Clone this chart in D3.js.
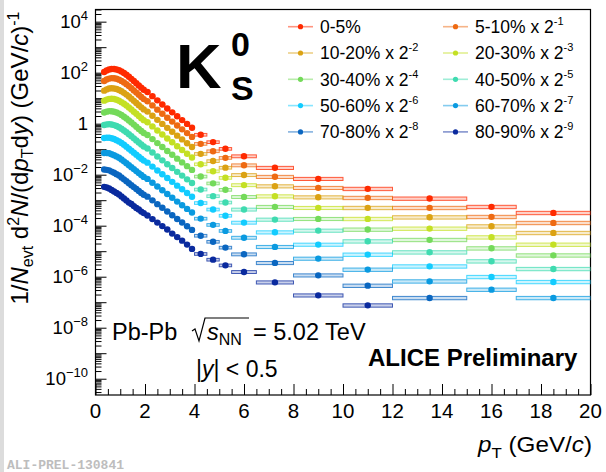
<!DOCTYPE html>
<html>
<head>
<meta charset="utf-8">
<script src="https://cdn.jsdelivr.net/npm/d3@7"></script>
<style>
  body { margin: 0; background: #fff; }
  svg { display: block; font-family: "Liberation Sans", Arial, Helvetica, sans-serif; }
</style>
</head>
<body>
<svg id="chart" width="606" height="472"></svg>
<script>
// K0S transverse-momentum spectra in Pb-Pb at 5.02 TeV, per centrality class

// pT bin edges (GeV/c)
const ptEdges = [0.3,0.4,0.5,0.6,0.7,0.8,0.9,1.0,1.1,1.2,1.3,1.4,1.5,1.6,1.7,1.8,1.9,2.0,
  2.2,2.4,2.6,2.8,3.0,3.2,3.4,3.6,3.8,4.0,4.5,5.0,5.5,6.5,8.0,10,12,15,17,20];

const centralityClasses = ["0-5%","5-10%","10-20%","20-30%","30-40%","40-50%","50-60%","60-70%","70-80%","80-90%"];
// each class is drawn multiplied by 2^exponent
const scaleExponents = [0,-1,-2,-3,-4,-5,-6,-7,-8,-9];
const seriesColors = ["#ff2a00","#ee6a12","#dba213","#c4e024","#74da5a","#3fdbb0","#12ccff","#0a9ae0","#0a66c0","#0a2a9e"];

// 1/Nevt d2N/(dpT dy), (GeV/c)^-1
const k0s_0_5   = [107,122,134,140,140,134,124,111,96.8,83.0,69.3,57.3,47.0,38.5,31.6,25.9,21.4,
  17.5,12.0,8.21,5.67,3.95,2.78,1.95,1.38,0.982,0.697,
  0.370,0.190,0.1035,0.0530,0.0186,0.00688,0.00279,0.00116,5.48e-4,3.18e-4];
const k0s_5_10  = [94.8,107.9,117.2,121.9,121.3,115.6,106.4,95.2,83.0,71.1,59.4,49.1,40.3,33.1,27.1,22.3,18.4,
  15.1,10.4,7.10,4.92,3.43,2.41,1.69,1.20,0.854,0.607,
  0.324,0.167,0.0914,0.0469,0.0165,0.00610,0.00247,0.00100,4.44e-4,2.58e-4];
const k0s_10_20 = [78.9,88.5,95.3,97.8,96.4,91.2,83.7,74.5,64.7,55.3,46.3,38.3,31.5,25.9,21.3,17.5,14.5,
  11.9,8.22,5.65,3.93,2.74,1.93,1.36,0.966,0.687,0.488,
  0.262,0.137,0.0754,0.0389,0.0141,0.00521,0.00200,8.55e-4,3.79e-4,2.09e-4];
const k0s_20_30 = [63.9,70.5,74.8,75.5,73.8,69.2,63.1,55.8,48.3,41.3,34.5,28.6,23.6,19.5,16.0,13.2,11.0,
  9.06,6.25,4.32,3.02,2.11,1.49,1.05,0.748,0.532,0.379,
  0.206,0.109,0.0604,0.0313,0.0114,0.00400,0.00148,6.17e-4,2.81e-4,1.45e-4];
const k0s_30_40 = [44.0,47.5,49.5,49.0,47.1,43.9,39.7,34.9,30.0,25.6,21.4,17.8,14.7,12.2,10.0,8.32,6.93,
  5.74,3.98,2.77,1.94,1.36,0.963,0.681,0.486,0.346,0.247,
  0.136,0.0731,0.0410,0.0215,0.00877,0.00296,0.00113,4.45e-4,2.08e-4,1.10e-4];
const k0s_40_50 = [28.4,30.0,30.7,29.7,28.1,25.9,23.3,20.3,17.3,14.8,12.3,10.3,8.53,7.08,5.87,4.88,4.08,
  3.39,2.37,1.65,1.17,0.823,0.582,0.413,0.295,0.210,0.151,
  0.0843,0.0461,0.0261,0.0138,0.00556,0.00206,7.83e-4,2.90e-4,1.29e-4,6.46e-5];
const k0s_50_60 = [17.6,18.1,18.1,17.1,16.0,14.5,12.9,11.2,9.51,8.05,6.73,5.62,4.69,3.91,3.25,2.71,2.28,
  1.90,1.33,0.937,0.667,0.472,0.335,0.238,0.171,0.122,0.0873,
  0.0498,0.0277,0.0158,0.00847,0.00353,0.00116,4.71e-4,1.63e-4,6.27e-5,3.99e-5];
const k0s_60_70 = [9.06,9.04,8.87,8.15,7.45,6.68,5.92,5.06,4.27,3.61,3.02,2.53,2.12,1.77,1.48,1.24,1.05,
  0.876,0.620,0.439,0.314,0.223,0.159,0.113,0.0815,0.0582,0.0419,
  0.0243,0.0138,0.00802,0.00434,0.00189,6.56e-4,2.43e-4,8.43e-5,3.98e-5,1.88e-5];
const k0s_70_80 = [4.08,3.96,3.79,3.39,3.04,2.69,2.37,2.00,1.68,1.41,1.18,0.992,0.834,0.702,0.589,0.495,0.420,
  0.353,0.252,0.179,0.129,0.0923,0.0659,0.0471,0.0340,0.0243,0.0175,
  0.0104,0.00603,0.00355,0.00194,8.89e-4,2.90e-4,1.14e-4,3.76e-5];
const k0s_80_90 = [1.71,1.60,1.47,1.28,1.12,0.975,0.851,0.711,0.593,0.495,0.413,0.361,0.301,0.252,0.220,0.183,0.160,
  0.128,0.0931,0.0678,0.0494,0.0361,0.0251,0.0183,0.0133,0.00929,0.00630,
  0.00401,0.00239,0.00143,7.87e-4,3.08e-4,9.51e-5,3.85e-5];

// relative systematic uncertainty per bin (box half-height)
const sysRel = [0.08,0.08,0.08,0.08,0.08,0.08,0.08,0.08,0.08,0.08,0.08,0.08,0.08,0.08,0.08,0.08,0.08,
  0.09,0.09,0.09,0.09,0.09,0.09,0.09,0.09,0.09,0.09,
  0.12,0.12,0.12,0.13,0.14,0.14,0.15,0.15,0.15,0.15];

const spectra = [k0s_0_5,k0s_5_10,k0s_10_20,k0s_20_30,k0s_30_40,k0s_40_50,k0s_50_60,k0s_60_70,k0s_70_80,k0s_80_90];

const yTickExponents = [-10,-8,-6,-4,-2,0,2,4];
const xTickValues = [0,2,4,6,8,10,12,14,16,18,20];

// ---------------------------------------------------------------
const svg = d3.select("#chart");
const frame = {left: 95.5, right: 590.5, top: 9.5, bottom: 395};

const x = d3.scaleLinear().domain([0, 20]).range([frame.left, frame.right]);
const y = d3.scaleLog().domain([2.3e-11, 3.0e4]).range([frame.bottom, frame.top]);

svg.append("rect").attr("x", 0).attr("y", 0).attr("width", 606).attr("height", 472).attr("fill", "#fff");
svg.append("rect").attr("x", 0).attr("y", 0).attr("width", 4).attr("height", 472).attr("fill", "#dcdcdc");

svg.append("defs").append("clipPath").attr("id", "plotClip")
  .append("rect")
  .attr("x", frame.left).attr("y", frame.top)
  .attr("width", frame.right - frame.left).attr("height", frame.bottom - frame.top);

// axis ticks, pointing into the frame
const minorX = d3.range(0, 20.01, 0.5).filter(v => Math.abs(v / 2 - Math.round(v / 2)) > 1e-6);
svg.append("g").attr("transform", `translate(0,${frame.bottom})`)
  .call(d3.axisBottom(x).tickValues(xTickValues).tickSize(-11).tickFormat(""))
  .call(g => g.select(".domain").remove());
svg.append("g").attr("transform", `translate(0,${frame.bottom})`)
  .call(d3.axisBottom(x).tickValues(minorX).tickSize(-6).tickFormat(""))
  .call(g => g.select(".domain").remove());

const decades = d3.range(-10, 5).map(e => Math.pow(10, e));
const minorY = [];
for (let e = -11; e <= 4; e++) for (let m = 2; m <= 9; m++) {
  const v = m * Math.pow(10, e);
  if (v >= y.domain()[0] && v <= y.domain()[1]) minorY.push(v);
}
svg.append("g").attr("transform", `translate(${frame.left},0)`)
  .call(d3.axisLeft(y).tickValues(decades).tickSize(-11).tickFormat(""))
  .call(g => g.select(".domain").remove());
svg.append("g").attr("transform", `translate(${frame.left},0)`)
  .call(d3.axisLeft(y).tickValues(minorY).tickSize(-6).tickFormat(""))
  .call(g => g.select(".domain").remove());
svg.selectAll(".tick line").attr("stroke", "#000").attr("stroke-width", 1);

// frame
svg.append("rect")
  .attr("x", frame.left).attr("y", frame.top)
  .attr("width", frame.right - frame.left).attr("height", frame.bottom - frame.top)
  .attr("fill", "none").attr("stroke", "#000").attr("stroke-width", 1.2);

// x tick labels
svg.append("g").selectAll("text").data(xTickValues).join("text")
  .attr("x", d => x(d)).attr("y", 418)
  .attr("text-anchor", "middle").attr("font-size", 20.5)
  .text(d => d);

// y tick labels (powers of ten)
const yLab = svg.append("g");
yTickExponents.forEach(e => {
  const t = yLab.append("text")
    .attr("x", 88).attr("y", y(Math.pow(10, e)) + 6.5)
    .attr("text-anchor", "end").attr("font-size", 18.5);
  if (e === 0) { t.text("1"); return; }
  t.append("tspan").text("10");
  t.append("tspan").attr("font-size", 13).attr("dy", -8)
    .text(e < 0 ? "\u2212" + (-e) : String(e));
});

// axis titles
const xt = svg.append("text").attr("x", 592).attr("y", 452)
  .attr("text-anchor", "end").attr("font-size", 21.5)
  .attr("textLength", 114).attr("lengthAdjust", "spacingAndGlyphs");
xt.append("tspan").attr("font-style", "italic").text("p");
xt.append("tspan").attr("font-size", 15).attr("dy", 6).text("T");
xt.append("tspan").attr("dy", -6).text(" (GeV/");
xt.append("tspan").attr("font-style", "italic").text("c");
xt.append("tspan").text(")");

const yt = svg.append("text")
  .attr("transform", "translate(28,158) rotate(-90)")
  .attr("text-anchor", "middle").attr("font-size", 24);
yt.append("tspan").text("1/");
yt.append("tspan").attr("font-style", "italic").text("N");
yt.append("tspan").attr("font-size", 16).attr("dy", 5).text("evt");
yt.append("tspan").attr("dy", -5).text(" d");
yt.append("tspan").attr("font-size", 16).attr("dy", -9).text("2");
yt.append("tspan").attr("dy", 9).attr("font-style", "italic").text("N");
yt.append("tspan").text("/(d");
yt.append("tspan").attr("font-style", "italic").text("p");
yt.append("tspan").attr("font-size", 16).attr("dy", 5).text("T");
yt.append("tspan").attr("dy", -5).text("d");
yt.append("tspan").attr("font-style", "italic").text("y");
yt.append("tspan").text(") (GeV/");
yt.append("tspan").attr("font-style", "italic").text("c");
yt.append("tspan").text(")");
yt.append("tspan").attr("font-size", 16).attr("dy", -9).text("-1");

// spectra: systematic boxes and markers
const plot = svg.append("g").attr("clip-path", "url(#plotClip)");
spectra.forEach((vals, k) => {
  const f = Math.pow(2, scaleExponents[k]);
  const col = seriesColors[k];
  const pts = vals.map((v, i) => ({
    lo: ptEdges[i], hi: ptEdges[i + 1],
    pt: (ptEdges[i] + ptEdges[i + 1]) / 2,
    v: v * f, s: sysRel[i]
  }));
  const g = plot.append("g");
  g.selectAll("rect").data(pts).join("rect")
    .attr("x", d => x(d.lo))
    .attr("width", d => x(d.hi) - x(d.lo))
    .attr("y", d => y(d.v * (1 + d.s)))
    .attr("height", d => y(d.v * (1 - d.s)) - y(d.v * (1 + d.s)))
    .attr("fill", col).attr("fill-opacity", 0.22)
    .attr("stroke", col).attr("stroke-opacity", 0.75).attr("stroke-width", 1);
  g.selectAll("circle").data(pts).join("circle")
    .attr("cx", d => x(d.pt)).attr("cy", d => y(d.v))
    .attr("r", 3.2).attr("fill", col);
});

// legend
const legend = svg.append("g");
centralityClasses.forEach((c, k) => {
  const col = k % 2, row = Math.floor(k / 2);
  const lx = col === 0 ? 288 : 443;
  const ly = 26.7 + row * 26.3;
  legend.append("line").attr("x1", lx).attr("x2", lx + 25).attr("y1", ly).attr("y2", ly)
    .attr("stroke", seriesColors[k]).attr("stroke-opacity", 0.5).attr("stroke-width", 1.6);
  legend.append("circle").attr("cx", lx + 12.5).attr("cy", ly).attr("r", 2.6).attr("fill", seriesColors[k]);
  const t = legend.append("text").attr("x", lx + 32).attr("y", ly + 6.2).attr("font-size", 17.5);
  if (scaleExponents[k] === 0) { t.text(c); return; }
  t.append("tspan").text(c + " x 2");
  t.append("tspan").attr("font-size", 11).attr("dy", -8).text(String(scaleExponents[k]));
});

// particle label
const kl = svg.append("g").attr("font-weight", "bold");
kl.append("text").attr("x", 176).attr("y", 88).attr("font-size", 63).text("K");
kl.append("text").attr("x", 231).attr("y", 56).attr("font-size", 34).text("0");
kl.append("text").attr("x", 231).attr("y", 100).attr("font-size", 34).text("S");

// collision system, with a drawn radical over s_NN
svg.append("text").attr("x", 112).attr("y", 340).attr("font-size", 23.5).text("Pb-Pb");
svg.append("path")
  .attr("d", "M192,331 L195,329 L199,341 L205,318 L249,318")
  .attr("fill", "none").attr("stroke", "#000").attr("stroke-width", 1.2);
const sNN = svg.append("text").attr("x", 207).attr("y", 340).attr("font-size", 23.5);
sNN.append("tspan").attr("font-style", "italic").text("s");
sNN.append("tspan").attr("font-size", 16).attr("dy", 5).text("NN");
svg.append("text").attr("x", 253).attr("y", 340).attr("font-size", 23.5).text("= 5.02 TeV");

const rap = svg.append("text").attr("x", 196).attr("y", 377).attr("font-size", 23);
rap.append("tspan").text("|");
rap.append("tspan").attr("font-style", "italic").text("y");
rap.append("tspan").text("| < 0.5");

svg.append("text").attr("x", 368).attr("y", 366).attr("font-size", 24)
  .attr("font-weight", "bold").text("ALICE Preliminary");

svg.append("text").attr("x", 7).attr("y", 469)
  .style("font-family", "'Liberation Mono', 'DejaVu Sans Mono', monospace")
  .attr("font-weight", "bold")
  .attr("font-size", 13).attr("fill", "#bdbdbd").text("ALI-PREL-130841");
</script>
</body>
</html>
